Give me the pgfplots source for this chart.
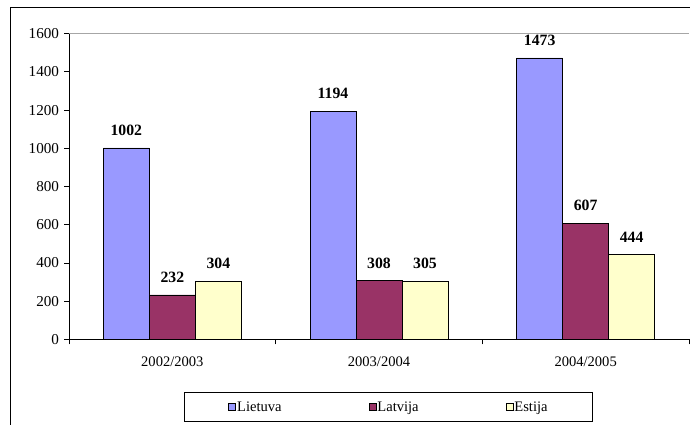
\documentclass[border=0pt]{standalone}
\usepackage{fontspec}
\setmainfont{Liberation Serif}
\usepackage{pgfplots}
\pgfplotsset{compat=1.18}
\definecolor{lie}{HTML}{9999FF}
\definecolor{lat}{HTML}{993366}
\definecolor{est}{HTML}{FFFFCC}
\newcommand{\cf}{\fontsize{14.6}{17.5}\selectfont}
\newcommand{\tf}{\fontsize{15.2}{18}\selectfont}
\pgfplotsset{sq legend/.style={legend image code/.code={\draw[##1] (0bp,-3.5bp) rectangle (7bp,3.5bp);}}}
\begin{document}
\begin{tikzpicture}[x=1bp,y=1bp]
\useasboundingbox (0,0) rectangle (690,424);
\draw[line width=1.2bp] (10.5,-20) -- (10.5,416.5) -- (720,416.5);
\begin{axis}[
 at={(69bp,84.7bp)}, anchor=south west,
 scale only axis, width=620bp, height=305.6bp,
 xmin=0, xmax=3, ymin=0, ymax=1600,
 axis lines*=left,
 axis line style={line width=0.8bp},
 ybar=0pt, bar width=46bp,
 xtick={0,1,2,3}, xticklabels={2002/2003,2003/2004,2004/2005},
 x tick label as interval,
 ytick={0,200,...,1600},
 tick align=outside, major tick length=5bp,
 tick style={black, line width=0.8bp},
 tick label style={font=\cf},
 yticklabel style={font=\tf, xshift=-1.5bp},
 /pgf/number format/assume math mode=true,
 /pgf/number format/1000 sep={},
 xticklabel style={yshift=-9bp},
 nodes near coords,
 every node near coord/.append style={font=\fontsize{15.8}{18}\selectfont\bfseries, yshift=8.5bp},
 legend style={at={(0.5153,-0.2215)}, anchor=center, legend columns=3,
   draw=black, line width=0.8bp, font=\cf, inner xsep=43.8bp, inner ysep=8bp,
   nodes={inner sep=1bp},
   /tikz/every even column/.append style={column sep=86bp}},
]
\draw[gray!70, line width=0.8bp] (rel axis cs:0,1) -- (rel axis cs:1,1);
\addplot[fill=lie, draw=black, line width=0.8bp, sq legend]
  coordinates {(0.5,1002) (1.5,1194) (2.5,1473)};
\addplot[fill=lat, draw=black, line width=0.8bp, sq legend]
  coordinates {(0.5,232) (1.5,308) (2.5,607)};
\addplot[fill=est, draw=black, line width=0.8bp, sq legend]
  coordinates {(0.5,304) (1.5,305) (2.5,444)};
\legend{Lietuva,Latvija,Estija}
\end{axis}
\end{tikzpicture}
\end{document}
